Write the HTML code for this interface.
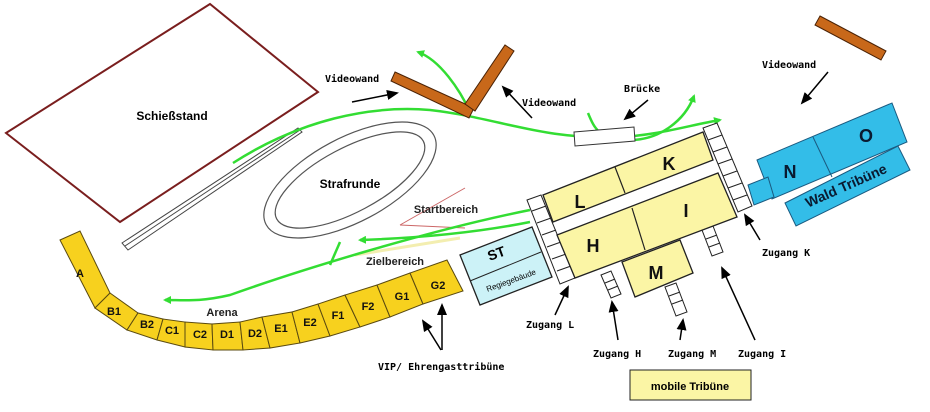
<!DOCTYPE html>
<html><head><meta charset="utf-8"><style>
body{margin:0;background:#fff}
svg{display:block}
text{font-family:"Liberation Sans",sans-serif;font-weight:bold}
.m{font-family:"DejaVu Sans Mono","Liberation Mono",monospace;font-size:10px;font-weight:bold}
</style></head><body>
<svg width="930" height="412" viewBox="0 0 930 412" xmlns="http://www.w3.org/2000/svg">
<defs>
<marker id="g" markerWidth="8" markerHeight="8" refX="6" refY="4" orient="auto" markerUnits="userSpaceOnUse"><path d="M0,0 L8,4 L0,8z" fill="#33dd33"/></marker>
<marker id="b" markerWidth="12" markerHeight="10" refX="10" refY="5" orient="auto" markerUnits="userSpaceOnUse"><path d="M0,0 L12,5 L0,10z" fill="#000"/></marker>
</defs>
<rect width="930" height="412" fill="#fff"/>
<polygon points="6,133 210,4 318,92 120,222" fill="#fff" stroke="#7a1e1e" stroke-width="2"/>
<text x="172" y="120" font-size="12" text-anchor="middle">Schießstand</text>
<g stroke="#444" stroke-width="1" fill="none">
<polygon points="122,243 298,128 302,132 128,250"/>
<line x1="125" y1="246" x2="300" y2="130"/>
</g>
<ellipse cx="350" cy="180" rx="95" ry="42" transform="rotate(-28 350 180)" fill="none" stroke="#555" stroke-width="1.2"/>
<ellipse cx="350" cy="180" rx="83" ry="32" transform="rotate(-28 350 180)" fill="none" stroke="#555" stroke-width="1.2"/>
<text x="350" y="188" font-size="12" text-anchor="middle">Strafrunde</text>
<line x1="400" y1="225" x2="465" y2="188" stroke="#c66" stroke-width="1"/>
<line x1="400" y1="225" x2="465" y2="228" stroke="#c66" stroke-width="1"/>
<text x="446" y="213" font-size="11" text-anchor="middle" fill="#222">Startbereich</text>
<text x="395" y="265" font-size="11" text-anchor="middle" fill="#222">Zielbereich</text>
<line x1="355" y1="255" x2="460" y2="238" stroke="#f3eeb0" stroke-width="3"/>
<g stroke="#33dd33" stroke-width="2.5" fill="none">
<path d="M530,210 C430,230 300,270 230,295 C200,302 185,300 165,300" marker-end="url(#g)"/>
<path d="M530,222 C480,232 420,238 360,240" marker-end="url(#g)"/>
<path d="M340,242 L330,265"/>
<path d="M233,163 C300,120 370,105 430,110 C500,118 540,140 620,137 C660,135 690,125 720,120" marker-end="url(#g)"/>
<path d="M470,112 C460,90 440,60 418,52" marker-end="url(#g)"/>
<path d="M588,113 C595,130 600,140 630,140 C660,140 685,120 694,96" marker-end="url(#g)"/>
</g>
<g fill="#f7d11e" stroke="#5a4a10" stroke-width="1">
<polygon points="60,240 80,231 110,293 95,308"/>
<polygon points="95,308 110,293 138,313 127,330"/>
<polygon points="127,330 138,313 163,319 157,340"/>
<polygon points="157,340 163,319 185,322 185,347"/>
<polygon points="185,347 185,322 212,324 213,350"/>
<polygon points="213,350 212,324 240,322 243,350"/>
<polygon points="243,350 240,322 262,317 270,348"/>
<polygon points="270,348 262,317 292,312 300,343"/>
<polygon points="300,343 292,312 318,304 330,336"/>
<polygon points="330,336 318,304 345,295 360,327"/>
<polygon points="360,327 345,295 377,285 390,317"/>
<polygon points="390,317 377,285 410,273 423,304"/>
<polygon points="423,304 410,273 447,260 463,291"/>
</g>
<g font-size="11" text-anchor="middle" fill="#111">
<text x="80" y="277">A</text><text x="114" y="315">B1</text><text x="147" y="328">B2</text>
<text x="172" y="334">C1</text><text x="200" y="338">C2</text><text x="227" y="338">D1</text>
<text x="255" y="337">D2</text><text x="281" y="332">E1</text><text x="310" y="326">E2</text>
<text x="338" y="319">F1</text><text x="368" y="310">F2</text><text x="402" y="300">G1</text><text x="438" y="289">G2</text>
</g>
<text x="222" y="316" font-size="11" text-anchor="middle" fill="#222">Arena</text>
<g fill="#c8681a" stroke="#4a2205" stroke-width="1">
<polygon points="395,72 474,108 469,118 391,81"/>
<polygon points="465,104 505,45 514,51 475,111"/>
<polygon points="820,16 886,51 881,60 815,25"/>
</g>
<polygon points="574,132 634,127 635,141 575,146" fill="#fff" stroke="#333"/>
<g fill="#fff" stroke="#222" stroke-width="1">
<polygon points="527,200 541,195 575,278 560,284"/>
<polygon points="703,128 717,123 752,206 738,212"/>
<polygon points="601,275 611,271 621,294 611,298"/>
<polygon points="665,287 676,283 687,312 676,316"/>
<polygon points="702,230 713,226 723,252 712,256"/>
</g>
<g stroke="#222" stroke-width="1">
<line x1="532" y1="211" x2="546" y2="206"/><line x1="537" y1="223" x2="551" y2="218"/><line x1="542" y1="235" x2="556" y2="230"/><line x1="547" y1="247" x2="561" y2="242"/><line x1="552" y1="259" x2="566" y2="254"/><line x1="557" y1="271" x2="571" y2="266"/>
<line x1="708" y1="140" x2="722" y2="135"/><line x1="713" y1="152" x2="727" y2="147"/><line x1="718" y1="164" x2="732" y2="159"/><line x1="723" y1="176" x2="737" y2="171"/><line x1="728" y1="188" x2="742" y2="183"/><line x1="733" y1="200" x2="747" y2="195"/>
<line x1="605" y1="283" x2="615" y2="279"/><line x1="608" y1="290" x2="618" y2="286"/>
<line x1="669" y1="296" x2="680" y2="292"/><line x1="672" y1="304" x2="683" y2="300"/>
<line x1="706" y1="239" x2="717" y2="235"/><line x1="709" y1="247" x2="720" y2="243"/>
</g>
<g fill="#fbf5a5" stroke="#222" stroke-width="1.3">
<polygon points="543,195 703,132 713,160 553,222"/>
<polygon points="557,235 718,173 737,217 575,278"/>
<polygon points="622,262 680,240 693,273 635,297"/>
</g>
<g stroke="#222" stroke-width="1.2">
<line x1="615" y1="167" x2="625" y2="193"/><line x1="632" y1="208" x2="645" y2="250"/>
</g>
<g font-size="18" text-anchor="middle" fill="#111">
<text x="580" y="208">L</text><text x="669" y="170">K</text><text x="593" y="252">H</text><text x="686" y="217">I</text><text x="656" y="279">M</text>
</g>
<polygon points="460,255 532,227 552,277 480,305" fill="#ccf2f7" stroke="#222" stroke-width="1.3"/>
<line x1="470" y1="281" x2="541" y2="252" stroke="#222" stroke-width="1"/>
<text x="498" y="258" font-size="14" text-anchor="middle" transform="rotate(-20 498 258)">ST</text>
<text x="512" y="283" font-size="8" text-anchor="middle" transform="rotate(-20 512 283)" style="font-weight:normal">Regiegebäude</text>
<g fill="#33bde8" stroke="#1a5a80" stroke-width="1">
<polygon points="757,160 892,103 907,142 772,199"/>
<polygon points="748,185 768,177 774,197 754,205"/>
<polygon points="785,203 898,146 910,170 796,226"/>
</g>
<line x1="813" y1="137" x2="832" y2="177" stroke="#1a5a80"/>
<text x="790" y="178" font-size="18" text-anchor="middle" fill="#0a1a30">N</text>
<text x="866" y="142" font-size="18" text-anchor="middle" fill="#0a1a30">O</text>
<text x="848" y="190" font-size="14" text-anchor="middle" fill="#0a1a30" transform="rotate(-24 848 190)">Wald Tribüne</text>
<g stroke="#000" stroke-width="1.5" fill="none">
<line x1="352" y1="102" x2="397" y2="93" marker-end="url(#b)"/>
<line x1="532" y1="118" x2="503" y2="87" marker-end="url(#b)"/>
<line x1="648" y1="100" x2="625" y2="119" marker-end="url(#b)"/>
<line x1="828" y1="72" x2="802" y2="103" marker-end="url(#b)"/>
<line x1="760" y1="240" x2="745" y2="215" marker-end="url(#b)"/>
<line x1="555" y1="315" x2="568" y2="287" marker-end="url(#b)"/>
<line x1="618" y1="340" x2="612" y2="302" marker-end="url(#b)"/>
<line x1="680" y1="340" x2="683" y2="320" marker-end="url(#b)"/>
<line x1="755" y1="340" x2="722" y2="268" marker-end="url(#b)"/>
<line x1="441" y1="350" x2="423" y2="321" marker-end="url(#b)"/>
<line x1="442" y1="350" x2="442" y2="305" marker-end="url(#b)"/>
</g>
<text class="m" x="325" y="82">Videowand</text>
<text class="m" x="522" y="106">Videowand</text>
<text class="m" x="624" y="92">Brücke</text>
<text class="m" x="762" y="68">Videowand</text>
<text class="m" x="762" y="256">Zugang K</text>
<text class="m" x="526" y="328">Zugang L</text>
<text class="m" x="593" y="357">Zugang H</text>
<text class="m" x="668" y="357">Zugang M</text>
<text class="m" x="738" y="357">Zugang I</text>
<text class="m" x="378" y="370">VIP/ Ehrengasttribüne</text>
<rect x="630" y="370" width="121" height="30" fill="#fbf5a5" stroke="#222"/>
<text x="690" y="390" font-size="11" text-anchor="middle">mobile Tribüne</text>
</svg>
</body></html>
